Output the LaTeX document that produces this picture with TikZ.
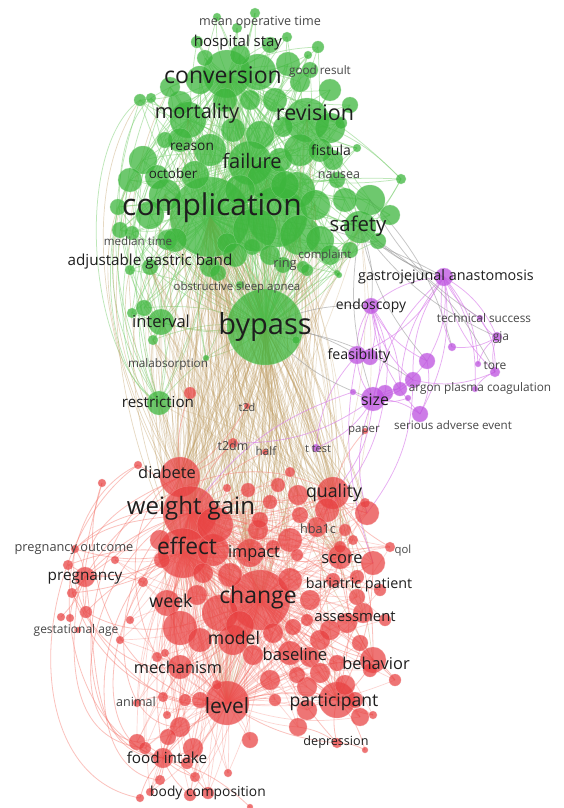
\documentclass[tikz,border=0pt]{standalone}
\usepackage{fontspec}
\setmainfont{Open Sans}
\pgfdeclarelayer{bg}
\pgfdeclarelayer{edges}
\pgfsetlayers{bg,edges,main}
\definecolor{gfill}{RGB}{60,182,60}
\definecolor{rfill}{RGB}{232,64,64}
\definecolor{pfill}{RGB}{190,84,224}
\definecolor{gline}{RGB}{125,208,115}
\definecolor{rline}{RGB}{246,118,108}
\definecolor{tline}{RGB}{192,158,100}
\definecolor{pline}{RGB}{218,128,236}
\definecolor{kline}{RGB}{150,150,150}
\definecolor{labdark}{RGB}{30,30,30}
\definecolor{lablight}{RGB}{70,70,70}
\newcommand\lfs[1]{\fontsize{#1}{#1}\selectfont}
\begin{document}
\begin{tikzpicture}[x=1pt,y=-1pt,
  gb/.style={fill=gfill,fill opacity=0.74,draw=gfill!55!white,draw opacity=0.5,line width=0.5pt},
  rb/.style={fill=rfill,fill opacity=0.72,draw=rfill!55!white,draw opacity=0.5,line width=0.5pt},
  pb/.style={fill=pfill,fill opacity=0.76,draw=pfill!55!white,draw opacity=0.5,line width=0.5pt},
  ge/.style={draw=gline,line width=0.75pt,opacity=0.5},
  re/.style={draw=rline,line width=0.8pt,opacity=0.45},
  rew/.style={draw=rline,line width=0.7pt,opacity=0.3},
  te/.style={draw=tline,line width=0.7pt,opacity=0.4},
  tew/.style={draw=tline,line width=0.7pt,opacity=0.28},
  pe/.style={draw=pline,line width=0.75pt,opacity=0.65},
  ke/.style={draw=kline,line width=0.75pt,opacity=0.55},
  lab/.style={inner sep=0pt,text=labdark},
  labs/.style={inner sep=0pt,text=lablight}]
\useasboundingbox (0,0) rectangle (563,808);
\begin{pgfonlayer}{bg}
\fill[white] (0,0) rectangle (563,808);
\end{pgfonlayer}
% green bubbles
\foreach \n/\x/\y/\r in {gtop1/255/13/5,gtop2/217/17/4,gtop3/237/28/5,gtop4/287/37/5,ghs/197/42/6,g5/318/47/6,g6/308/55/4,cnv/227/74/24,g8/258/72/18,g9/288/64/12,g10/300/82/10,g11/330/90/11,mor/188/120/18,g13/180/103/12,g14/170/87/10,g15/140/100/6,g16/151/98/5,rev/307/120/22,g17/330/128/15,g18/250/100/10,g19/233/130/12,g20/260/135/14,g21/283/127/10,g22/341/123/6,fai/250/163/22,g23/143/160/14,g24/130/180/12,g25/157/177/12,g26/118/207/8,cmp/210/217/40,g27/277/217/30,g28/300/235/20,g29/297/190/18,g30/267/180/20,g31/370/200/15,saf/360/227/16,g32/378/241/8,g33/280/160/12,g34/333/160/10,g35/337/180/8,g36/357/148/4,g37/401/179/5,g38/227/243/10,g39/252/247/8,g40/210/267/10,gab/150/267/8,g41/130/270/5,g42/303/267/6,g43/167/240/10,g44/337/273/3,grg/283/265/8,g45/165/195/16,g46/315/205/15,g47/240/190/15,g48/132/233/7,int/161/322/13,g50/144/308/8,g51/132/313/5,g52/153/340/5,g53/206/358/3,res/159/403/12,g54/218/273/8,g55/240/285/4,byp/265/327/38,g56/296/340/4,g57/307/270/6,g58/339/275/3,gx1/200/80/14,gx2/180/140/12,gx3/210/150/16,gx4/225/100/12,gx5/275/100/12,gx6/300/150/16,gx7/320/150/12,gx8/285/185/14,gx9/150/215/14,gx10/175/240/12,gx11/255/230/22,gx12/235/255/12,gx13/320/240/14,gx14/345/200/12,gx15/390/215/10,gx16/195/175/14,gx17/270/255/10,gx18/330/255/10,gx19/350/250/8,gx20/120/230/8,gx21/240/55/10,gx22/205/58/8,gx23/270/45/8,gx24/310/70/8,gx25/350/105/8,gx26/165/140/8}
{\fill[gb] (\x,\y) circle[radius=\r pt]; \coordinate (\n) at (\x,\y);}
% red bubbles
\foreach \n/\x/\y/\r in {dia/180/477/20,wg/190/513/27,eff/183/553/25,r1/138/465/4,r2/102/483/4,r3/227/488/4,r4/248/490/7,r5/278/485/7,r6/290/472/5,r7/270/502/7,r8/298/495/10,qua/333/493/16,r9/367/513/12,r10/365/503/5,r11/327/510/12,r12/317/527/10,r13/258/530/10,r14/290/540/12,r15/273/547/7,imp/250/553/14,r16/213/550/16,r17/162/560/8,r18/297/555/6,sco/340/557/12,r19/373/563/12,r20/390/547/5,r21/353/540/5,r22/340/547/6,r23/203/573/10,r24/143/582/5,r25/357/577/7,r26/333/580/7,preg/85/577/10,r27/68/565/5,r28/72/593/5,r29/86/612/6,r30/61/617/4,r31/70/618/4,r32/78/630/3,r34/75/549/4,wk/167/603/13,r35/197/595/10,chg/260/600/30,r36/220/613/18,r37/180/628/17,mod/233/640/15,r38/273/633/10,r39/253/655/10,r40/293/627/8,r41/307/620/6,r42/330/630/10,r43/347/623/10,r44/363/613/10,r45/357/597/8,bas/290/653/12,r46/310/657/10,beh/373/660/13,r47/337/663/8,r48/320/673/10,r49/307/687/10,r50/360/643/8,r51/370/670/7,mech/180/667/12,r52/157/657/5,r53/165/653/4,lev/227/703/22,r54/217/685/5,par/337/700/18,r55/307/710/10,r56/360/717/9,r57/373/715/4,r58/298/727/9,dep/337/743/5,r59/365/750/3,ani/163/697/5,r60/137/703/4,r61/167/715/4,r62/180/727/10,r63/168/737/8,r64/137/742/8,r65/145/748/6,r66/193/748/10,fi/163/758/10,r67/187/763/6,r68/195/777/5,r69/228/773/4,r70/160/780/5,r71/140/798/4,r72/150/792/4,r73/190/795/6,r74/208/793/6,r75/250/807/3,rt2d/247/406/3,rt2dm/233/443/5,rhalf/265/452/3,r76/190/393/6,rpaper/365/431/3,r78/297/675/8,rx1/215/525/18,rx2/160/540/10,rx3/230/575/12,rx4/290/580/12,rx5/310/600/10,rx6/240/625/14,rx7/200/640/12,rx8/270/680/10,rx9/320/640/10,rx10/345/685/10,rx11/355/700/8,rx12/200/700/8,rx13/250/740/8,rx14/185/700/6,rx15/275/700/6,rx16/120/640/4,rx17/130/620/4,rx18/115/560/4,rx19/260/520/8,rx20/300/515/8,rx21/345/530/6,rx22/380/590/6,rx23/385/620/6,rx24/395/680/6}
{\fill[rb] (\x,\y) circle[radius=\r pt]; \coordinate (\n) at (\x,\y);}
% purple bubbles
\foreach \n/\x/\y/\r in {pga/444/277/9,pend/371/306/8,pts/480/318/3,pgja/497/337/5,p1/452/347/4,pfea/357/355/9,p2/370/357/8,p3/427/361/8,ptore/495/372/5,p4/478/364/3,p5/413/380/8,p6/400/389/7,p7/385/393/8,psize/373/399/12,p8/353/392/3,p9/408/398/3,psae/420/414/8,p10/475/389/3,ptt/316/448/4}
{\fill[pb] (\x,\y) circle[radius=\r pt]; \coordinate (\n) at (\x,\y);}
\begin{pgfonlayer}{edges}
% green
\foreach \a [count=\i] in {cmp,byp,cnv,fai}
 \foreach \b [count=\j] in {mor,rev,saf,int,res,gab,g5,g6,g8,g9,g10,g11,g13,g14,g15,g16,g17,g18,g19,g20,g21,g22,g23,g24,g25,g26,g27,g28,g29,g30,g31,g32,g33,g34,g35,g36,g37,g38,g39,g40,g41,g42,g43,g44,g45,g46,g47,g48,g50,g51,g52,g53,g54,g55,g56,g57,g58,grg,ghs,gtop1,gtop2,gtop3,gtop4,gx1,gx2,gx3,gx4,gx5,gx6,gx7,gx8,gx9,gx10,gx11,gx12,gx13,gx14,gx15,gx16,gx17,gx18,gx19,gx20,gx21,gx22,gx23,gx24,gx25,gx26}
 {\pgfmathsetmacro\bb{mod(\i+\j,2)==0 ? 14 : -14}\draw[ge] (\a) to[bend left=\bb] (\b);}
\foreach \a/\b [count=\i] in {cmp/cnv,cmp/fai,cmp/byp,byp/cnv,byp/fai,cnv/fai,mor/rev,mor/fai,mor/g23,mor/g24,mor/g25,mor/g13,mor/g14,mor/g15,mor/saf,mor/int,rev/fai,rev/saf,rev/g17,rev/g22,rev/g11,rev/g34,rev/g36,rev/g37,rev/g31,rev/g29,saf/g31,saf/g32,saf/g37,saf/g34,saf/g35,saf/g46,saf/g58,int/g50,int/g51,int/g52,int/gab,int/res,g43/gab,g48/int}
 {\pgfmathsetmacro\bb{mod(\i,2)==0 ? 14 : -14}\draw[ge] (\a) to[bend left=\bb] (\b);}
\foreach \a/\b in {g15/res,g14/int,g16/g52,mor/res,g24/res,g23/int,g26/res,gab/res,g13/res}
 {\draw[ge] (\a) to[bend right=22] (\b);}
\foreach \a/\b/\o/\n in {g15/res/215/150,g16/int/220/145,g13/gab/225/140,mor/res/220/150,g23/res/225/155,g24/int/235/135}
 {\draw[ge] (\a) to[out=\o,in=\n,looseness=0.7] (\b);}
% green-red
\foreach \a [count=\i] in {byp,cmp}
 \foreach \b [count=\j] in {dia,wg,eff,r4,r5,r6,r7,r8,qua,r9,r11,r12,r13,r14,imp,sco,chg,mod,lev,par,beh,bas,r36,r37,wk,r3,rt2d,rt2dm,rhalf,r16,r19,r44,r45,r10,r22,r21,rx1,rx2,rx3,rx4,rx19,rx20,r23,r17,r35}
 {\pgfmathsetmacro\bb{mod(\i+\j,2)==0 ? 10 : -10}\draw[te] (\a) to[bend left=\bb] (\b);}
\foreach \a [count=\i] in {g27,g28,g38,g40,g43,g45,g47,int,res,gab,g30,g46,fai,rev,saf,cnv,mor,g52,g53,g54,g57,grg}
 \foreach \b [count=\j] in {dia,wg,eff,chg,qua,lev,sco,imp}
 {\pgfmathsetmacro\bb{mod(\i+\j,2)==0 ? 12 : -12}\draw[tew] (\a) to[bend left=\bb] (\b);}
\foreach \a/\b/\o/\n in {g14/dia/240/120,g15/wg/235/125,g23/eff/245/120,g24/dia/245/125,g26/wg/250/120,gab/eff/245/115,g41/dia/255/120}
 {\draw[te] (\a) to[out=\o,in=\n,looseness=0.8] (\b);}
% red
\foreach \a [count=\i] in {wg,chg,lev,eff}
 \foreach \b [count=\j] in {r3,r4,r5,r6,r7,r8,r9,r10,r11,r12,r13,r14,r15,r16,r17,r18,r19,r20,r21,r22,r23,r24,r25,r26,r35,r36,r37,r38,r39,r40,r41,r42,r43,r44,r45,r46,r47,r48,r49,r50,r51,r52,r53,r54,r55,r56,r57,r58,r60,r61,r62,r63,r64,r65,r66,r67,r68,r69,r72,r73,r74,r78,rx1,rx2,rx3,rx4,rx5,rx6,rx7,rx8,rx9,rx10,rx11,rx12,rx13,rx14,rx15,rx16,rx17,rx18,rx19,rx20,rx21,rx22,rx23,rx24}
 {\pgfmathsetmacro\bb{mod(\i+\j,2)==0 ? 14 : -14}\draw[rew] (\a) to[bend left=\bb] (\b);}
\foreach \a/\b [count=\i] in {wg/eff,wg/chg,wg/lev,wg/imp,wg/qua,wg/sco,wg/mod,wg/wk,wg/par,wg/dia,wg/mech,wg/bas,wg/beh,wg/fi,wg/preg,chg/eff,chg/lev,chg/par,chg/beh,chg/bas,chg/mod,chg/sco,chg/qua,chg/imp,chg/wk,chg/mech,chg/dep,chg/fi,chg/ani,chg/dia,lev/eff,lev/par,lev/mech,lev/mod,lev/fi,lev/ani,lev/bas,lev/beh,lev/dep,lev/wk,eff/dia,eff/preg,eff/r27,eff/r28,eff/r29,eff/r34,eff/mech,eff/wk,eff/fi,eff/par,eff/qua,eff/sco,eff/imp,eff/mod,par/beh,par/bas,par/sco,par/qua,par/dep,par/r56,par/r57,par/r59,par/r55,par/r47,par/r48,par/r49,par/r19,par/r44,preg/r27,preg/r28,preg/r29,preg/r30,preg/r31,preg/r32,preg/r34,preg/r24,preg/dia,fi/r70,fi/r71,fi/r72,fi/r73,fi/r74,fi/r64,fi/r65,fi/r66,fi/r63,fi/mech,fi/r75,fi/r68,qua/sco,qua/r9,qua/r11,qua/r12,qua/r19,qua/r20,qua/beh,qua/imp,qua/r8,mod/bas,mod/mech,mod/r38,mod/r39,imp/sco,imp/r14,sco/r19,sco/r20,sco/beh,sco/bas,rt2dm/wg,rt2dm/dia,rhalf/wg,rt2d/dia,r76/dia,r1/wg,rpaper/qua,beh/r50,beh/r51,beh/rx24,dep/r58,dep/r59,mech/r52,mech/r53,ani/r60,ani/r61}
 {\pgfmathsetmacro\bb{mod(\i,2)==0 ? 14 : -14}\draw[re] (\a) to[bend left=\bb] (\b);}
\foreach \a/\b/\o/\n in {dia/fi/200/175,wg/r64/195/170,r1/r71/215/170,eff/r70/190/175,r2/lev/250/180,dia/lev/205/185,wg/r62/200/180,r17/fi/225/170,preg/fi/280/180,r34/mech/260/190,r27/lev/275/185,r2/r65/255/175,dia/preg/205/90,wg/r34/190/40,r1/fi/205/165,preg/qua/60/150,r34/sco/45/160,r29/chg/330/200,r28/lev/300/190}
 {\draw[re] (\a) to[out=\o,in=\n] (\b);}
% purple
\foreach \a/\b [count=\i] in {pga/pend,pga/pfea,pga/psize,pga/p3,pga/pts,pga/pgja,pga/ptore,pga/p4,pga/p5,pga/psae,pga/p1,pga/p10,pga/p6,pend/psize,pend/pfea,pend/p2,pend/p5,pend/p6,pend/psae,pend/p7,pend/p3,psize/pfea,psize/p5,psize/p6,psize/p7,psize/p8,psize/p9,psize/psae,psize/p3,psize/ptt,pgja/ptore,pgja/p1,pgja/p4,ptore/p5,ptore/p10,p3/psae,pts/pgja,pts/ptore,psize/r9,p5/r9,pend/r19,psize/qua,pfea/ptt,psize/rt2dm,p8/wg,p7/r11}
 {\pgfmathsetmacro\bb{mod(\i,2)==0 ? 18 : -18}\draw[pe] (\a) to[bend left=\bb] (\b);}
\foreach \a/\b [count=\i] in {saf/pga,saf/pend,saf/p3,byp/pfea,byp/psize,byp/pend,g31/pts,cmp/pga,g32/pga,byp/p5,saf/psize,g32/ptore,saf/pgja,g31/p1}
 {\pgfmathsetmacro\bb{mod(\i,2)==0 ? 14 : -14}\draw[ke] (\a) to[bend left=\bb] (\b);}
\end{pgfonlayer}
% labels
\node[labs,font=\lfs{12.6}] (l1) at (260,22) {mean operative time};
\node[lab,font=\lfs{15}] (l2) at (238,43) {hospital stay};
\node[lab,font=\lfs{23}] (l3) at (223,75) {conversion};
\node[labs,font=\lfs{11.7}] (l4) at (320,71) {good result};
\node[lab,font=\lfs{20}] (l5) at (197,113) {mortality};
\node[lab,font=\lfs{21.5}] (l6) at (315,113) {revision};
\node[lab,font=\lfs{13.7}] (l7) at (192,147) {reason};
\node[lab,font=\lfs{20}] (l8) at (252,161) {failure};
\node[lab,font=\lfs{14}] (l9) at (331,150) {fistula};
\node[lab,font=\lfs{13.4}] (l10) at (173,173) {october};
\node[labs,font=\lfs{12.5}] (l11) at (339,175) {nausea};
\node[lab,font=\lfs{30}] (l12) at (212,208) {complication};
\node[lab,font=\lfs{20.4}] (l13) at (358,226) {safety};
\node[labs,font=\lfs{11.6}] (l14) at (138,241) {median time};
\node[lab,font=\lfs{15.2}] (l15) at (150,262) {adjustable gastric band};
\node[labs,font=\lfs{12.8}] (l16) at (285,264) {ring};
\node[labs,font=\lfs{11.4}] (l17) at (325,256) {complaint};
\node[labs,font=\lfs{11.4}] (l18) at (237,288) {obstructive sleep apnea};
\node[lab,font=\lfs{14.4}] (l19) at (446,277) {gastrojejunal anastomosis};
\node[lab,font=\lfs{13.9}] (l20) at (371,306) {endoscopy};
\node[labs,font=\lfs{11.8}] (l21) at (484,318) {technical success};
\node[labs,font=\lfs{12}] (l22) at (501,338) {gja};
\node[lab,font=\lfs{16.5}] (l23) at (161,321) {interval};
\node[lab,font=\lfs{29}] (l24) at (265,327) {bypass};
\node[labs,font=\lfs{11.7}] (l25) at (168,364) {malabsorption};
\node[lab,font=\lfs{14.2}] (l26) at (359,356) {feasibility};
\node[labs,font=\lfs{12}] (l27) at (495,366) {tore};
\node[labs,font=\lfs{11.8}] (l28) at (480,388) {argon plasma coagulation};
\node[lab,font=\lfs{15.2}] (l29) at (158,402) {restriction};
\node[labs,font=\lfs{10.8}] (l30) at (247,407) {t2d};
\node[lab,font=\lfs{15.9}] (l31) at (375,400) {size};
\node[labs,font=\lfs{11.6}] (l32) at (453,425) {serious adverse event};
\node[labs,font=\lfs{11.5}] (l33) at (364,431) {paper};
\node[labs,font=\lfs{12.4}] (l34) at (233,446) {t2dm};
\node[labs,font=\lfs{11.7}] (l35) at (266,451) {half};
\node[labs,font=\lfs{11}] (l36) at (318,449) {t test};
\node[lab,font=\lfs{16.4}] (l37) at (167,472) {diabete};
\node[lab,font=\lfs{24}] (l38) at (191,508) {weight gain};
\node[lab,font=\lfs{17.8}] (l39) at (334,493) {quality};
\node[labs,font=\lfs{12.7}] (l40) at (318,529) {hba1c};
\node[labs,font=\lfs{12.8}] (l41) at (74,549) {pregnancy outcome};
\node[lab,font=\lfs{22.8}] (l42) at (187,546) {effect};
\node[lab,font=\lfs{16.3}] (l43) at (254,553) {impact};
\node[labs,font=\lfs{11.3}] (l44) at (403,551) {qol};
\node[lab,font=\lfs{16.5}] (l45) at (342,559) {score};
\node[lab,font=\lfs{15.3}] (l46) at (85,578) {pregnancy};
\node[lab,font=\lfs{14.3}] (l47) at (359,585) {bariatric patient};
\node[lab,font=\lfs{17.8}] (l48) at (171,601) {week};
\node[lab,font=\lfs{23}] (l49) at (258,598) {change};
\node[lab,font=\lfs{14.8}] (l50) at (355,617) {assessment};
\node[labs,font=\lfs{12}] (l51) at (76,630) {gestational age};
\node[lab,font=\lfs{17.6}] (l52) at (234,638) {model};
\node[lab,font=\lfs{16.6}] (l53) at (295,654) {baseline};
\node[lab,font=\lfs{16.3}] (l54) at (178,667) {mechanism};
\node[lab,font=\lfs{16.4}] (l55) at (376,663) {behavior};
\node[labs,font=\lfs{12.6}] (l56) at (136,702) {animal};
\node[lab,font=\lfs{21}] (l57) at (227,706) {level};
\node[lab,font=\lfs{17.6}] (l58) at (334,702) {participant};
\node[lab,font=\lfs{12.6}] (l59) at (336,742) {depression};
\node[lab,font=\lfs{15.3}] (l60) at (167,758) {food intake};
\node[lab,font=\lfs{13.8}] (l61) at (208,793) {body composition};
\end{tikzpicture}
\end{document}
